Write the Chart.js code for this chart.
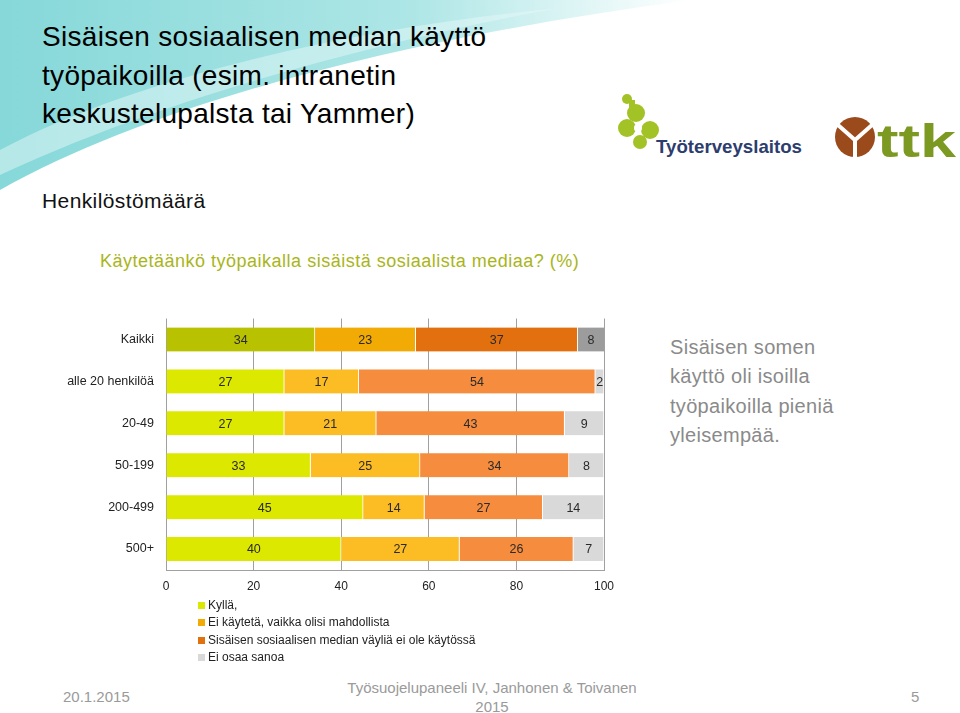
<!DOCTYPE html>
<html>
<head>
<meta charset="utf-8">
<script src="https://cdn.jsdelivr.net/npm/chart.js@4/dist/chart.umd.min.js"></script>
<style>
  body { margin: 0; width: 960px; height: 713px; background: #fff; position: relative; overflow: hidden;
         font-family: "Liberation Sans", Arial, sans-serif; }
  .abs { position: absolute; }
  #title { left: 42px; top: 18px; font-size: 28px; line-height: 38.5px; color: #000; letter-spacing: 0.3px; white-space: nowrap; }
  #sub { left: 42px; top: 189px; font-size: 21px; color: #111; letter-spacing: 0.4px; }
  #q { left: 100px; top: 251px; font-size: 18px; color: #a9b51a; letter-spacing: 0.5px; white-space: nowrap; }
  #note { left: 670px; top: 333px; font-size: 20px; line-height: 29.3px; color: #8a8a8a; letter-spacing: 0.3px; }
  #wrap { left: 20px; top: 299px; width: 610px; height: 301px; }
  #legend { left: 198px; top: 597px; font-size: 12px; color: #222; line-height: 17.4px; }
  #legend span.sq { display: inline-block; width: 7px; height: 7px; margin-right: 3px; vertical-align: 0px; }
  .foot { color: #9a9a9a; font-size: 15px; }
</style>
</head>
<body>
<svg class="abs" style="left:0;top:0" width="960" height="300">
  <defs>
    <linearGradient id="sw" x1="0" y1="0" x2="1" y2="0">
      <stop offset="0" stop-color="#86d8d9"/>
      <stop offset="0.6" stop-color="#aee6e6"/>
      <stop offset="1" stop-color="#ffffff"/>
    </linearGradient>
  </defs>
  <path d="M0,0 L690,0 C430,35 170,95 0,190 Z" fill="url(#sw)"/>
  <path d="M0,150 C150,70 380,25 560,8 C380,40 160,100 0,175 Z" fill="#e6f7f7" opacity="0.5"/>
  <!-- Työterveyslaitos logo -->
  <g fill="#a3c226">
    <circle cx="627" cy="99" r="5"/>
    <circle cx="636" cy="113" r="9"/>
    <circle cx="627" cy="128" r="9"/>
    <circle cx="650" cy="130" r="9"/>
    <circle cx="640" cy="142" r="7"/>
    <rect x="629" y="100" width="6" height="12"/>
  </g>
  <circle cx="638" cy="128" r="4" fill="#fff"/>
  <text x="656" y="153" font-family="Liberation Sans Narrow, Liberation Sans" font-weight="bold" font-size="19" fill="#2c3d6e" textLength="146" lengthAdjust="spacingAndGlyphs">Työterveyslaitos</text>
  <!-- ttk logo -->
  <circle cx="855" cy="137" r="20" fill="#9b4a1c"/>
  <path d="M838,125 L855,140 L872,125 M855,140 L855,158" stroke="#fff" stroke-width="4" fill="none"/>
  <text x="877" y="157" font-family="Liberation Sans" font-weight="bold" font-size="46" fill="#7c9a22" textLength="79" lengthAdjust="spacingAndGlyphs">ttk</text>
</svg>

<div id="title" class="abs">Sisäisen sosiaalisen median käyttö<br>työpaikoilla (esim. intranetin<br>keskustelupalsta tai Yammer)</div>
<div id="sub" class="abs">Henkilöstömäärä</div>
<div id="q" class="abs">Käytetäänkö työpaikalla sisäistä sosiaalista mediaa? (%)</div>
<div id="note" class="abs">Sisäisen somen<br>käyttö oli isoilla<br>työpaikoilla pieniä<br>yleisempää.</div>

<div id="wrap" class="abs"><canvas id="chart" width="610" height="301"></canvas></div>
<div id="legend" class="abs"></div>

<div class="abs foot" style="left:63px;top:688px;">20.1.2015</div>
<div class="abs foot" style="left:292px;top:678px;width:400px;text-align:center;line-height:19px;">Työsuojelupaneeli IV, Janhonen &amp; Toivanen<br>2015</div>
<div class="abs foot" style="left:911px;top:688px;">5</div>

<script>
const categories = ['Kaikki', 'alle 20 henkilöä', '20-49', '50-199', '200-499', '500+'];
const seriesNames = ['Kyllä,', 'Ei käytetä, vaikka olisi mahdollista', 'Sisäisen sosiaalisen median väyliä ei ole käytössä', 'Ei osaa sanoa'];
const kylla = [34, 27, 27, 33, 45, 40];
const eiKayteta = [23, 17, 21, 25, 14, 27];
const eiVaylia = [37, 54, 43, 34, 27, 26];
const eiOsaa = [8, 2, 9, 8, 14, 7];
const xTicks = [0, 20, 40, 60, 80, 100];

// first colour is for the "Kaikki" row, second for the rest
const colours = [
  ['#b9c200', '#dde800'],
  ['#f2aa05', '#fcbc24'],
  ['#e3700f', '#f68c3e'],
  ['#9c9c9c', '#d9d9d9']
];
const legendColours = ['#dde800', '#f2aa05', '#e3700f', '#d9d9d9'];

const values = [kylla, eiKayteta, eiVaylia, eiOsaa];

const barLabels = {
  id: 'barLabels',
  afterDatasetsDraw(chart) {
    const ctx = chart.ctx;
    ctx.save();
    ctx.font = '12.5px "Liberation Sans", Arial, sans-serif';
    ctx.fillStyle = '#2a2a2a';
    ctx.textAlign = 'center';
    ctx.textBaseline = 'middle';
    chart.data.datasets.forEach((ds, i) => {
      chart.getDatasetMeta(i).data.forEach((bar, j) => {
        const left = Math.min(bar.base, bar.x);
        const right = Math.min(Math.max(bar.base, bar.x), chart.chartArea.right);
        ctx.fillText(ds.data[j], (left + right) / 2, bar.y + 1);
      });
    });
    ctx.restore();
  }
};

new Chart(document.getElementById('chart'), {
  type: 'bar',
  data: {
    labels: categories,
    datasets: values.map((v, i) => ({
      label: seriesNames[i],
      data: v,
      backgroundColor: categories.map((c, j) => j === 0 ? colours[i][0] : colours[i][1]),
      borderColor: '#ffffff',
      borderWidth: { left: 0, right: 1, top: 0, bottom: 0 },
      borderSkipped: false,
      barThickness: 24
    }))
  },
  options: {
    indexAxis: 'y',
    responsive: false,
    animation: false,
    devicePixelRatio: 1,
    layout: { padding: { top: 7, right: 26, left: 0, bottom: 0 } },
    plugins: { legend: { display: false }, tooltip: { enabled: false } },
    scales: {
      x: {
        stacked: true,
        min: 0,
        max: 100,
        afterBuildTicks: s => { s.ticks = xTicks.map(v => ({ value: v })); },
        afterFit: s => { s.height = 30; },
        grid: { color: '#a0a0a0', lineWidth: 1, drawTicks: false },
        border: { color: '#a0a0a0' },
        ticks: { color: '#222', font: { size: 12, family: '"Liberation Sans", Arial' }, padding: 9, maxRotation: 0 }
      },
      y: {
        stacked: true,
        afterFit: s => { s.width = 146; },
        grid: { display: false, drawTicks: false },
        border: { display: false },
        ticks: { color: '#222', font: { size: 12.5, family: '"Liberation Sans", Arial' }, padding: 12 }
      }
    }
  },
  plugins: [barLabels]
});

document.getElementById('legend').innerHTML = seriesNames.map((n, i) =>
  '<div><span class="sq" style="background:' + legendColours[i] + '"></span>' + n + '</div>').join('');
</script>
</body>
</html>
